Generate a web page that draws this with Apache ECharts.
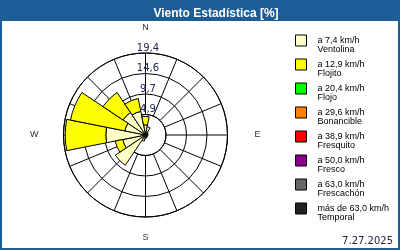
<!DOCTYPE html>
<html><head><meta charset="utf-8">
<script src="https://cdn.jsdelivr.net/npm/echarts@6/dist/echarts.min.js"></script>
<style>html,body{margin:0;padding:0;background:#fff}#c{width:400px;height:250px}</style>
</head><body><div id="c"></div>
<script>
const directions = ['N','NNE','NE','ENE','E','ESE','SE','SSE','S','SSW','SW','WSW','W','WNW','NW','NNW'];
const ventolina  = [2.4,2.0,0.8,0.6,0.6,0.5,0.6,0.6,0.8,1.5,8.6,5.5,9.4,5.0,6.4,5.7];
const flojito    = [2.0,0,0,0,0,0,0,0,0,0,0,1.8,9.6,13.1,5.7,3.1];
const flojo      = [0,0,0,0,0,0,0,0,0,0,0,0,0,0,0,0];
const bonancible = [0,0,0,0,0,0,0,0,0,0,0,0,0,0,0,0];
const fresquito  = [0,0,0,0,0,0,0,0,0,0,0,0,0,0,0,0];
const fresco     = [0,0,0,0,0,0,0,0,0,0,0,0,0,0,0,0];
const frescachon = [0,0,0,0,0,0,0,0,0,0,0,0,0,0,0,0];
const temporal   = [0,0,0,0,0,0,0,0,0,0,0,0,0,0,0,0];
const classNames = ['a 7,4 km/h\nVentolina','a 12,9 km/h\nFlojito','a 20,4 km/h\nFlojo','a 29,6 km/h\nBonancible','a 38,9 km/h\nFresquito','a 50,0 km/h\nFresco','a 63,0 km/h\nFrescachón','más de 63,0 km/h\nTemporal'];
const classColors = ['#ffffc8','#ffff00','#00ff00','#ff8000','#ff0000','#8b008b','#666666','#222222'];
const classData = [ventolina, flojito, flojo, bonancible, fresquito, fresco, frescachon, temporal];
const ringValues = [4.85, 9.7, 14.55, 19.4];
const ringLabels = ['4,9','9,7','14,6','19,4'];
const compassTicks = [0, 90, 180, 270];
const compassNames = ['N','E','S','W'];
const titleText = 'Viento Estadística [%]';
const dateText = '7.27.2025';
const blue = '#1c5d96';

const chart = echarts.init(document.getElementById('c'), null, {renderer:'canvas'});
const series = classNames.map((n, i) => ({
  name: n, type: 'bar', coordinateSystem: 'polar', polarIndex: 0, stack: 'rose',
  barCategoryGap: '0%',
  itemStyle: {color: classColors[i], borderColor: '#000', borderWidth: 1},
  data: classData[i].map(v => v === 0 ? '-' : v)
}));
const compassRich = {
  n: {padding: [0, 0, 5, 0]},
  e: {padding: [0, 0, 0, 11]},
  s: {padding: [0, 0, 0, 0]},
  w: {padding: [0, 9, 0, 0]}
};
chart.setOption({
  animation: false,
  title: [
    {text: titleText, left: 211, top: 3, textAlign: 'center', textStyle: {color: '#fff', fontSize: 12, fontWeight: 'bold', fontFamily: 'Liberation Sans'}},
    {text: dateText, right: 7, bottom: 4, padding: 0, textStyle: {color: '#1a2040', fontSize: 10, fontWeight: 'normal', fontFamily: 'DejaVu Sans'}}
  ],
  graphic: [
    {type: 'rect', shape: {x: 0, y: 0, width: 400, height: 21}, style: {fill: blue}, z: -1},
    {type: 'rect', shape: {x: 0, y: 0, width: 2, height: 250}, style: {fill: blue}, z: -1},
    {type: 'rect', shape: {x: 398, y: 0, width: 2, height: 250}, style: {fill: blue}, z: -1},
    {type: 'rect', shape: {x: 0, y: 248, width: 400, height: 2}, style: {fill: blue}, z: -1}
  ],
  legend: {
    orient: 'vertical', left: 295, top: 27, padding: 0, itemWidth: 11, itemHeight: 11, itemGap: -3,
    icon: 'rect',
    data: classNames,
    formatter: name => ' \n' + name,
    itemStyle: {borderColor: '#000', borderWidth: 1},
    textStyle: {fontSize: 9, fontFamily: 'Liberation Sans', color: '#000', lineHeight: 9, padding: [0, 0, 0, 6]}
  },
  polar: [
    {center: [145.5, 135], radius: [0, 82]},
    {center: [145.5, 135], radius: [20.5, 82]}
  ],
  angleAxis: [
    {polarIndex: 0, type: 'category', data: directions, startAngle: 101.25, clockwise: true, boundaryGap: true,
     axisLine: {show: false}, axisTick: {show: false}, axisLabel: {show: false}, splitLine: {show: false}},
    {polarIndex: 1, type: 'value', min: 0, max: 360, interval: 22.5, startAngle: 90, clockwise: true,
     axisLine: {show: true, lineStyle: {color: '#000', width: 1}}, axisTick: {show: false},
     splitLine: {show: true, lineStyle: {color: '#000', width: 1}},
     axisLabel: {margin: 16, color: '#333', fontSize: 9, fontFamily: 'Liberation Sans', rich: compassRich,
       formatter: v => { const k = compassTicks.indexOf(v); return k >= 0 ? '{' + compassNames[k].toLowerCase() + '|' + compassNames[k] + '}' : ''; }}}
  ],
  radiusAxis: [
    {polarIndex: 0, type: 'value', min: 0, max: 19.4, show: false},
    {polarIndex: 1, type: 'value', min: 4.85, max: 19.4, interval: 4.85,
     axisLine: {show: false}, axisTick: {show: false},
     splitLine: {show: true, lineStyle: {color: '#000', width: 1}},
     axisLabel: {margin: 0, align: 'center', verticalAlign: 'bottom', padding: [0, 0, 0, 5], color: '#202850', fontSize: 10, fontFamily: 'DejaVu Sans',
       formatter: v => { let best = 0; ringValues.forEach((r, i) => { if (Math.abs(r - v) < Math.abs(ringValues[best] - v)) best = i; }); return ringLabels[best]; }}}
  ],
  series: series
});
</script></body></html>
